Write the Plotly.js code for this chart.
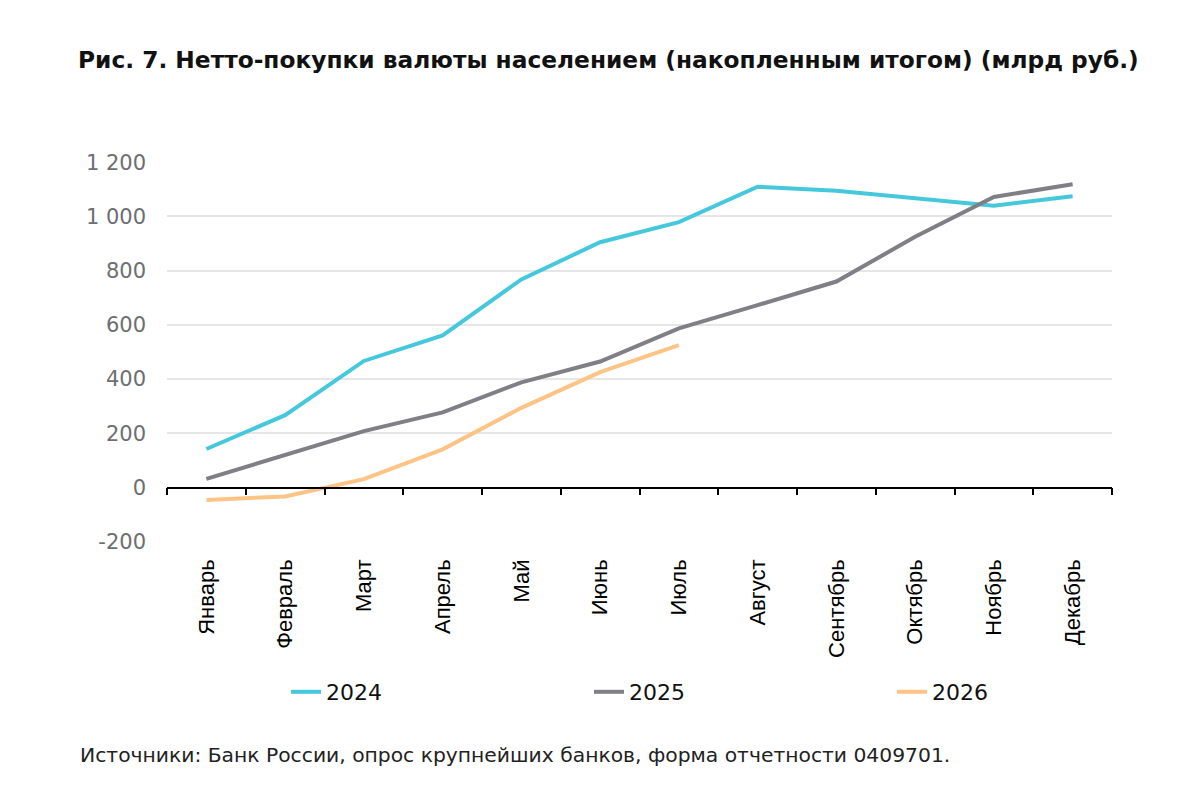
<!DOCTYPE html>
<html>
<head>
<meta charset="utf-8">
<script src="https://cdn.plot.ly/plotly-3.0.1.min.js"></script>
<style>
  html, body { margin: 0; padding: 0; background: #fff; }
  #chart { width: 1200px; height: 786px; }
</style>
</head>
<body>
<div id="chart"></div>
<script>
// месяцы
var months = ['Январь', 'Февраль', 'Март', 'Апрель', 'Май', 'Июнь', 'Июль',
              'Август', 'Сентябрь', 'Октябрь', 'Ноябрь', 'Декабрь'];

// накопленные нетто-покупки, млрд руб.
var y2024 = [142, 267, 467, 561, 768, 905, 979, 1110, 1095, 1066, 1040, 1075];
var y2025 = [32, 120, 208, 277, 388, 465, 587, 673, 760, 925, 1072, 1119];
var y2026 = [-46, -33, 31, 141, 294, 426, 525];

var yTicks = [-200, 0, 200, 400, 600, 800, 1000, 1200];
var yTickLabels = ['-200', '0', '200', '400', '600', '800', '1 000', '1 200'];

var wideFont = '"DejaVu Sans", Verdana, sans-serif';

function lineTrace(name, values, color) {
    return {
        type: 'scatter',
        mode: 'lines',
        name: name,
        x: months.slice(0, values.length),
        y: values,
        line: { color: color, width: 4 },
        hoverinfo: 'x+y'
    };
}

var traces = [
    lineTrace('2024', y2024, '#45c8dc'),
    lineTrace('2025', y2025, '#7f7f85'),
    lineTrace('2026', y2026, '#fdc486'),
    {   // пустой ряд, чтобы нарисовать ось на уровне нуля
        type: 'scatter',
        mode: 'lines',
        x: months,
        y: months.map(function () { return null; }),
        xaxis: 'x2',
        showlegend: false,
        hoverinfo: 'skip'
    }
];

var zeroPos = (0 - yTicks[0]) / (yTicks[yTicks.length - 1] - yTicks[0]);

var layout = {
    width: 1200,
    height: 786,
    paper_bgcolor: '#fff',
    plot_bgcolor: '#fff',
    margin: { l: 167, r: 88, t: 162, b: 244, pad: 0 },
    font: { family: wideFont, color: '#000' },
    title: {
        text: '<b>Рис. 7. Нетто-покупки валюты населением (накопленным итогом) (млрд руб.)</b>',
        xref: 'container', x: 78 / 1200, xanchor: 'left',
        yref: 'container', y: 1 - 60 / 786, yanchor: 'middle',
        font: { family: wideFont, size: 23.3, color: '#111' }
    },
    xaxis: {
        type: 'category',
        categoryarray: months,
        range: [-0.5, 11.5],
        showgrid: false,
        showline: false,
        zeroline: false,
        ticks: '',
        tickangle: -90,
        ticklabelstandoff: 12,
        tickfont: { family: '"Liberation Sans", Arial, sans-serif', size: 22, color: '#000' }
    },
    xaxis2: {
        type: 'category',
        categoryarray: months,
        range: [-0.5, 11.5],
        overlaying: 'x',
        anchor: 'free',
        position: zeroPos,
        side: 'bottom',
        showgrid: false,
        showline: true,
        linecolor: '#000',
        linewidth: 1.5,
        ticks: 'outside',
        tickson: 'boundaries',
        ticklen: 7,
        tickwidth: 1.5,
        tickcolor: '#000',
        showticklabels: false,
        zeroline: false
    },
    yaxis: {
        range: [-201, 1201],
        tickvals: yTicks,
        ticktext: yTickLabels,
        showgrid: true,
        gridcolor: '#e6e6e6',
        gridwidth: 1.5,
        zeroline: false,
        showline: false,
        ticks: '',
        ticklabelstandoff: 20,
        tickfont: { family: wideFont, size: 21, color: '#6d6e71' }
    },
    legend: {
        orientation: 'h',
        xref: 'container',
        x: 286 / 1200, xanchor: 'left',
        yref: 'container',
        y: 1 - 692 / 786, yanchor: 'middle',
        entrywidth: 258,
        entrywidthmode: 'pixels',
        font: { family: wideFont, size: 22, color: '#111' },
        bgcolor: 'rgba(0,0,0,0)'
    },
    annotations: [{
        text: 'Источники: Банк России, опрос крупнейших банков, форма отчетности 0409701.',
        xref: 'paper', x: (78 - 167) / 945, xanchor: 'left',
        yref: 'paper', y: (542 - 755) / 380, yanchor: 'middle',
        showarrow: false,
        font: { family: wideFont, size: 20.3, color: '#222' }
    }]
};

var configOptions = { displayModeBar: false, responsive: false };

Plotly.newPlot('chart', traces, layout, configOptions);
</script>
</body>
</html>
